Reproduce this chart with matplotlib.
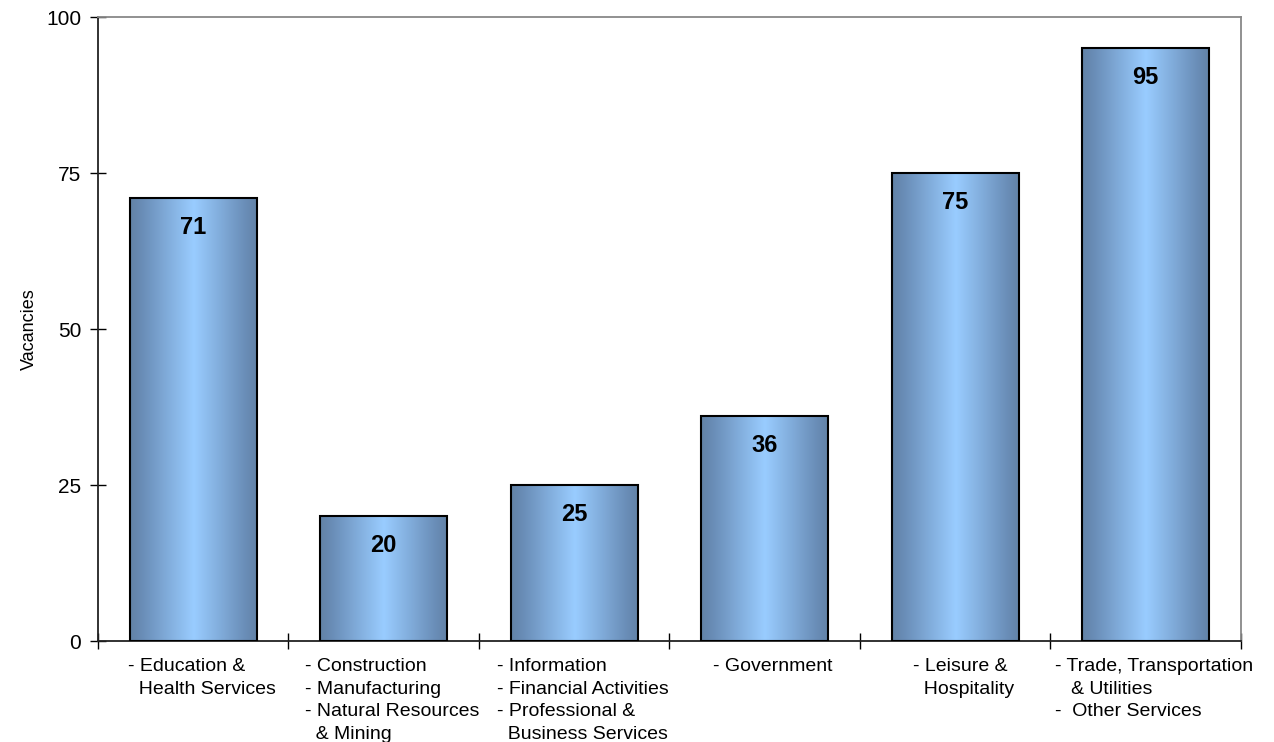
import matplotlib.pyplot as plt
import numpy as np
from matplotlib.colors import LinearSegmentedColormap
from matplotlib.transforms import ScaledTranslation

plt.rcParams['font.family'] = ['Liberation Sans', 'DejaVu Sans']

categories = ['- Education &\n  Health Services',
              '- Construction\n- Manufacturing\n- Natural Resources\n  & Mining',
              '- Information\n- Financial Activities\n- Professional &\n  Business Services',
              '- Government',
              '- Leisure &\n  Hospitality',
              '- Trade, Transportation\n   & Utilities\n-  Other Services']
vacancies = [71, 20, 25, 36, 75, 95]
yticks = [0, 25, 50, 75, 100]

fig = plt.figure(figsize=(12.74, 7.42), dpi=100)
ax = fig.add_axes([0.0769, 0.1361, 0.8971, 0.8409])

x = np.arange(len(categories))
bars = ax.bar(x, vacancies, width=0.667, facecolor='none', edgecolor='black',
              linewidth=1.5, zorder=3)

# horizontal gradient: dark edges, light centre
cmap = LinearSegmentedColormap.from_list('bar', [(0, '#6282A6'), (0.2, '#6A8EB8'),
                                                 (1, '#99CCFF')])
grad = 1 - np.abs(np.linspace(-1, 1, 256))
grad = grad.reshape(1, -1)
for b in bars:
    x0, y0 = b.get_x(), b.get_y()
    w, h = b.get_width(), b.get_height()
    im = ax.imshow(grad, cmap=cmap, aspect='auto', extent=[x0, x0 + w, y0, y0 + h],
                   zorder=2, interpolation='bicubic')
    im.set_clip_path(b)

for xi, v in zip(x, vacancies):
    ax.annotate(str(v), (xi, v), xytext=(0, -21), textcoords='offset points',
                ha='center', va='center', fontsize=17, fontweight='bold', zorder=4)

ax.set_xlim(-0.5, len(categories) - 0.5)
ax.set_ylim(0, 100)
ax.set_yticks(yticks)
ax.tick_params(axis='y', direction='inout', length=12, width=1, labelsize=15, pad=6)

ax.set_xticks(np.arange(len(categories) + 1) - 0.5)
ax.set_xticklabels([])
ax.tick_params(axis='x', direction='inout', length=12, width=1)
ax.set_xticks(x, minor=True)
ax.set_xticklabels(categories, minor=True, fontsize=14,
                   multialignment='left', linespacing=1.45, va='top')
ax.tick_params(axis='x', which='minor', length=0, pad=12)
shift = ScaledTranslation(6 / 72, 0, fig.dpi_scale_trans)
for lab in ax.get_xticklabels(minor=True):
    lab.set_transform(lab.get_transform() + shift)

ax.set_ylabel('Vacancies', fontsize=13, labelpad=6)

for s in ['left', 'bottom']:
    ax.spines[s].set_color('#222222')
    ax.spines[s].set_linewidth(1.3)
for s in ['top', 'right']:
    ax.spines[s].set_color('#888888')
    ax.spines[s].set_linewidth(1.3)

fig.savefig('out.png', dpi=100)
